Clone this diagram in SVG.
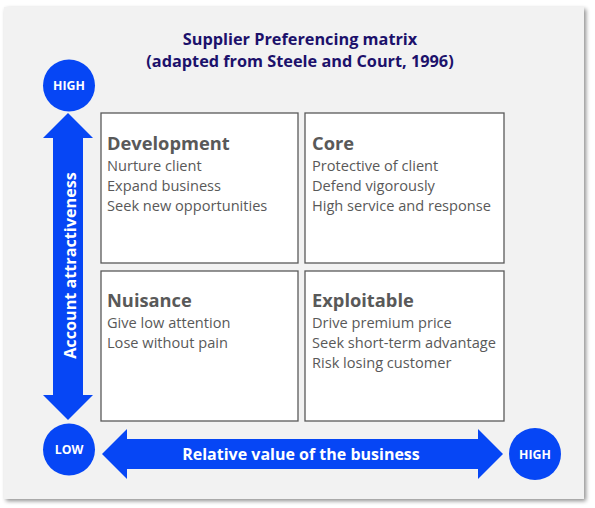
<svg xmlns="http://www.w3.org/2000/svg" width="595" height="508" viewBox="0 0 595 508">
<defs>
<filter id="sh" x="-5%" y="-5%" width="110%" height="110%">
<feGaussianBlur in="SourceAlpha" stdDeviation="2"/>
<feOffset dx="2" dy="2"/>
<feComponentTransfer><feFuncA type="linear" slope="0.45"/></feComponentTransfer>
<feMerge><feMergeNode/><feMergeNode in="SourceGraphic"/></feMerge>
</filter>
</defs>
<style>
.title{font-family:"Open Sans","Liberation Sans",sans-serif;font-weight:bold;font-size:16.3px;fill:#1c116b;text-anchor:middle}
.box{fill:#ffffff;stroke:#595959;stroke-width:1.3}
.hd{font-family:"Open Sans","Liberation Sans",sans-serif;font-weight:bold;font-size:18.3px;fill:#595959}
.tx{font-family:"Open Sans","Liberation Sans",sans-serif;font-size:14.6px;fill:#595959}
.blue{fill:#0646f5}
.wl{font-family:"Open Sans","Liberation Sans",sans-serif;font-weight:bold;fill:#ffffff;text-anchor:middle}
.cl{font-size:12.3px}
</style>
<rect x="0" y="0" width="595" height="508" fill="#ffffff"/>
<rect x="4" y="7" width="580" height="492" fill="#f2f2f2" filter="url(#sh)"/>
<g id="title">
<text class="title" x="300" y="45">Supplier Preferencing matrix</text>
<text class="title" x="300" y="67">(adapted from Steele and Court, 1996)</text>
</g>
<g id="development">
<rect class="box" x="101" y="113" width="197" height="150"/>
<text class="hd" x="107" y="150">Development</text>
<text class="tx" x="107" y="171">Nurture client</text>
<text class="tx" x="107" y="191">Expand business</text>
<text class="tx" x="107" y="211">Seek new opportunities</text>
</g>
<g id="core">
<rect class="box" x="305" y="113" width="199" height="150"/>
<text class="hd" x="312" y="150">Core</text>
<text class="tx" x="312" y="171">Protective of client</text>
<text class="tx" x="312" y="191">Defend vigorously</text>
<text class="tx" x="312" y="211">High service and response</text>
</g>
<g id="nuisance">
<rect class="box" x="101" y="271" width="197" height="150"/>
<text class="hd" x="107" y="307">Nuisance</text>
<text class="tx" x="107" y="328">Give low attention</text>
<text class="tx" x="107" y="348">Lose without pain</text>
</g>
<g id="exploitable">
<rect class="box" x="305" y="271" width="199" height="150"/>
<text class="hd" x="312" y="307">Exploitable</text>
<text class="tx" x="312" y="328">Drive premium price</text>
<text class="tx" x="312" y="348">Seek short-term advantage</text>
<text class="tx" x="312" y="368">Risk losing customer</text>
</g>
<g id="connectors">
<g id="vertical-arrow">
<polygon class="blue" points="68,113 93,138 83,138 83,395 93,395 68,420 43,395 53,395 53,138 43,138"/>
<text class="wl" font-size="16.2" transform="translate(75.5,265.5) rotate(-90)">Account attractiveness</text>
</g>
<g id="horizontal-arrow">
<polygon class="blue" points="102,454 127,429 127,439 478,439 478,429 503,454 478,479 478,469 127,469 127,479"/>
<text class="wl" font-size="16" x="301" y="460">Relative value of the business</text>
</g>
</g>
<g id="high-y">
<circle class="blue" cx="69" cy="85.5" r="26"/>
<text class="wl cl" x="69" y="90">HIGH</text>
</g>
<g id="low">
<circle class="blue" cx="69" cy="449.5" r="26"/>
<text class="wl cl" x="69" y="454">LOW</text>
</g>
<g id="high-x">
<circle class="blue" cx="535" cy="454" r="26"/>
<text class="wl cl" x="535" y="458.5">HIGH</text>
</g>
</svg>
